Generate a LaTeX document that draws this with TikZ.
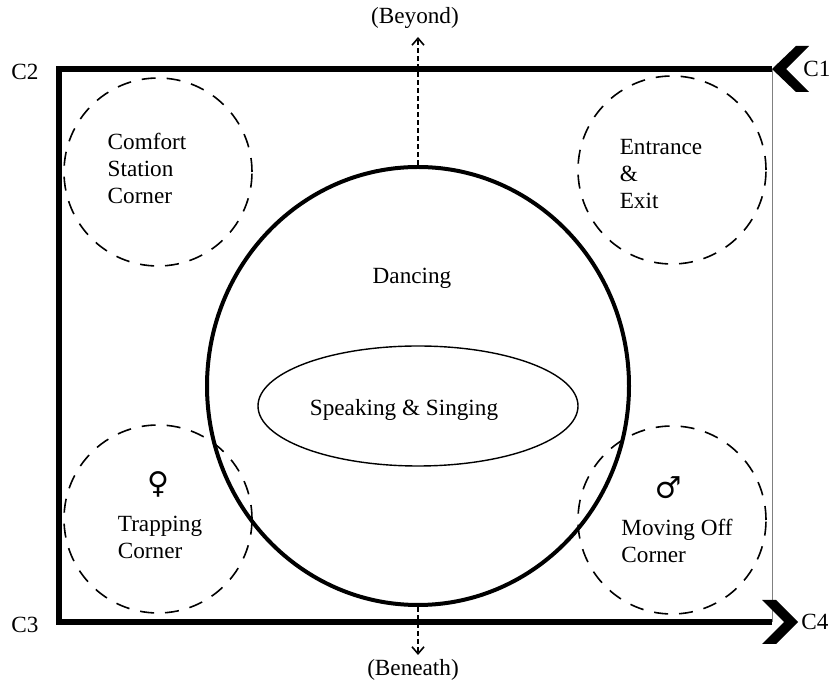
\documentclass[tikz,border=0pt]{standalone}
\usepackage{fontspec}
\setmainfont{Liberation Serif}
\newfontfamily\symfont{DejaVu Serif}
\usetikzlibrary{shapes.geometric}
\usetikzlibrary{arrows.meta}

\begin{document}
\begin{tikzpicture} [x=0.5pt, y=-0.5pt, font=\fontsize{11.6}{13.5}\selectfont,
  zone/.style={draw, circle, dash pattern=on 7pt off 5.5pt, line width=0.8pt, minimum size=94pt, inner sep=0pt},
  lbl/.style={align=left, inner sep=0pt},
  way/.style={line width=0.7pt, dash pattern=on 2.5pt off 1.5pt, -{Straight Barb[length=3.5pt, width=6pt, line width=0.8pt]}}]
\useasboundingbox (0,0) rectangle (830,688);
% frame
\draw[line width=3pt] (772,69) -| (59,622) -- (772,622);
\draw[gray, line width=0.5pt] (772,69) -- (772,622);
\fill (772,69) -- (796,46) -- (809,46) -- (786,69) -- (809,92) -- (796,92) -- cycle;
\fill (762,600) -- (776,600) -- (798,622) -- (776,644) -- (762,644) -- (784,622) -- cycle;
\node[inner sep=1pt] (c1) at (817,69) {C1};
\node (c2) at (25,72) {C2};
\node (c3) at (25,625) {C3};
\node (c4) at (815,622) {C4};
% dancing area
\node[draw, ellipse, line width=2pt, minimum width=211pt, minimum height=219pt, inner sep=0pt] (dance) at (418,386) {};
\node[draw, ellipse, line width=0.7pt, minimum width=160pt, minimum height=60pt, inner sep=0pt] (talk) at (418,406) {};
\node (dancetxt) at (412,278) {Dancing};
\node (talktxt) at (404,410) {Speaking \& Singing};
% corners
\foreach \n/\p in {comfort/{158,172}, entry/{672,170}, trap/{158,519}, moveoff/{672,520}}
  \node[zone] (\n) at (\p) {};
\node[lbl] (comforttxt) at (147,168) {Comfort\\Station\\Corner};
\node[lbl] (entrytxt) at (661,174) {Entrance\\\&\\Exit};
\node[lbl] (traptxt) at (160,537) {Trapping\\Corner};
\node[lbl] (moveofftxt) at (677,541) {Moving Off\\Corner};
\node[inner sep=0pt] (venus) at (158,484) {\symfont\fontsize{15}{15}\selectfont ♀};
\node[inner sep=0pt] (mars) at (668,488) {\symfont\fontsize{15}{15}\selectfont ♂};
% beyond and beneath
\coordinate (up) at (418,37);
\coordinate (down) at (418,655);
\draw[way] (dance.north) -- (up);
\draw[way] (dance.south) -- (down);
\node (beyond) at (415,18) {(Beyond)};
\node (beneath) at (413,670) {(Beneath)};
\end{tikzpicture}
\end{document}
